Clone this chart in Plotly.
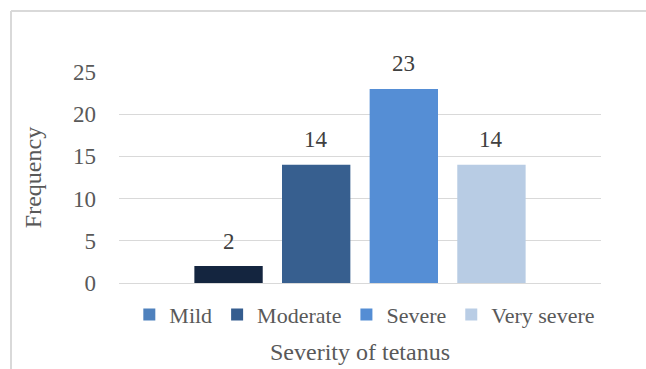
import plotly.graph_objects as go

# ---- data ----
categories = ["Mild", "Moderate", "Severe", "Very severe"]
frequency = [2, 14, 23, 14]
bar_colors = ["#14253f", "#375f8f", "#558ed5", "#b8cce4"]
legend_colors = ["#4f81bd", "#355d8f", "#548dd4", "#b9cde5"]
y_ticks = [0, 5, 10, 15, 20, 25]

W, H = 646, 369
L, R, T, B = 119, 45, 72, 86  # margins (px)
plot_w = W - L - R
plot_h = H - T - B

FONT = "Liberation Serif"
GREY = "#595959"

fig = go.Figure()

# bars (one trace per category so each has its own colour)
for cat, val, col in zip(categories, frequency, bar_colors):
    fig.add_trace(go.Bar(
        x=[cat], y=[val], name=cat, marker=dict(color=col, line=dict(width=0)),
        showlegend=False, hoverinfo="x+y",
    ))

# legend entries (colours as drawn in the reference legend)
for cat, col in zip(categories, legend_colors):
    fig.add_trace(go.Bar(
        x=[cat], y=[None], name=cat, marker=dict(color=col, line=dict(width=0)),
        showlegend=True, hoverinfo="skip",
    ))

# data labels
for cat, val in zip(categories, frequency):
    fig.add_annotation(
        x=cat, y=val, xref="x", yref="y", text=str(val), showarrow=False,
        yanchor="middle", yshift=25,
        font=dict(family=FONT, size=23, color="#404040"),
    )

# light grey frame (cut off at right/bottom edges)
fx0 = (11 - L) / plot_w
fy1 = (H - B - 11) / plot_h
fig.add_shape(type="line", xref="paper", yref="paper",
              x0=fx0, x1=(W + 5 - L) / plot_w, y0=fy1, y1=fy1,
              line=dict(color="#d9d9d9", width=2))
fig.add_shape(type="line", xref="paper", yref="paper",
              x0=fx0, x1=fx0, y0=fy1, y1=-(B + 5) / plot_h,
              line=dict(color="#d9d9d9", width=2))

fig.update_layout(
    width=W, height=H,
    margin=dict(l=L, r=R, t=T, b=B, pad=0),
    paper_bgcolor="white", plot_bgcolor="white",
    barmode="overlay", bargap=0.22,
    font=dict(family=FONT, color=GREY),
    showlegend=True,
    legend=dict(
        orientation="h", x=0.51, xanchor="center", y=-0.15, yanchor="middle",
        font=dict(family=FONT, size=22, color=GREY),
        bgcolor="rgba(0,0,0,0)", traceorder="normal",
    ),
    xaxis=dict(
        type="category", categoryorder="array", categoryarray=categories,
        range=[-1.25, 4.25], showticklabels=False, showgrid=False,
        zeroline=False, showline=False, ticks="", automargin=False,
        title=dict(text="Severity of tetanus", standoff=60,
                   font=dict(family=FONT, size=24, color=GREY)),
    ),
    yaxis=dict(
        range=[0, 25], tickvals=y_ticks, ticktext=[str(v) for v in y_ticks],
        showgrid=True, gridcolor="#d9d9d9", gridwidth=1.3,
        zeroline=True, zerolinecolor="#d9d9d9", zerolinewidth=1.3,
        showline=False, ticks="", ticklabelstandoff=22, automargin=False,
        tickfont=dict(family=FONT, size=23, color=GREY),
        title=dict(text="Frequency", standoff=24,
                   font=dict(family=FONT, size=24, color=GREY)),
    ),
)

fig.write_html("out.html")
